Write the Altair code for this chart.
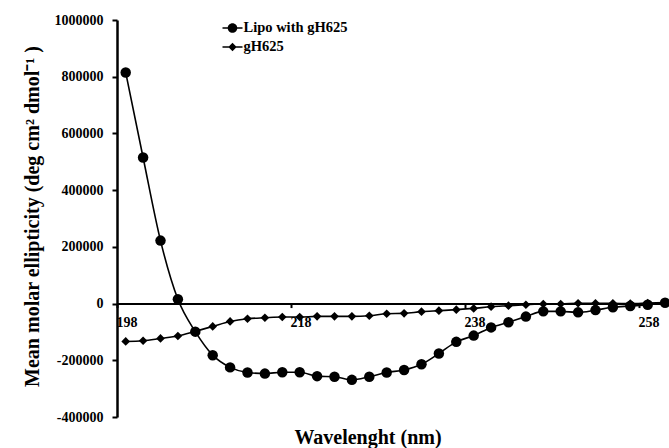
import altair as alt
import pandas as pd

wavelength = list(range(198, 262, 2))
lipo = [815000, 515000, 222000, 15000, -99000, -182000, -225000, -243000,
        -247000, -242000, -242000, -256000, -258000, -269000, -258000, -243000,
        -234000, -214000, -176000, -135000, -113000, -84000, -66000, -46000,
        -27500, -27500, -31000, -23000, -13000, -8500, -4000, 3000]
gh625 = [-133500, -131000, -123000, -114500, -98000, -80500, -63000, -53500,
         -50000, -47500, -47500, -45000, -45000, -45000, -43000, -36000,
         -34500, -28500, -25000, -21500, -17000, -11000, -7500, -4000,
         -1500, -1500, 1000, 1000, 1000, 0, 2000, 4000]
series_names = ["Lipo with gH625", "gH625"]

rows = []
for w, a, b in zip(wavelength, lipo, gh625):
    rows.append({"wl": w, "val": a, "series": series_names[0]})
    rows.append({"wl": w, "val": b, "series": series_names[1]})
df = pd.DataFrame(rows)

W, H = 552, 397
FONT = "Liberation Serif"
ymin, ymax = -400000, 1000000
x_offset = -(H * (0 - ymin) / (ymax - ymin))

xscale = alt.Scale(domain=[197, 260.45], nice=False, zero=False)
yscale = alt.Scale(domain=[ymin, ymax], nice=False)

xaxis = alt.Axis(
    values=[197, 217, 237, 257], labelExpr="datum.value + 1", labelOffset=9.5,
    labelFlush=False, labelOverlap=False, labelBound=False,
    offset=x_offset, tickSize=4, tickWidth=2, tickColor="black",
    domainColor="black", domainWidth=2, labelPadding=8,
    labelFont=FONT, labelFontSize=14, labelFontWeight="bold", labelColor="black",
    title="Wavelenght (nm)", titleFont=FONT, titleFontSize=20, titleFontWeight="bold",
    titleColor="black", titleX=250.5, titleY=139.5, titleAlign="center",
    titleBaseline="alphabetic", grid=False,
)
yaxis = alt.Axis(
    values=list(range(-400000, 1000001, 200000)), labelExpr="datum.value + ''",
    tickSize=5, tickWidth=2, tickColor="black", domainColor="black", domainWidth=2.5,
    labelPadding=9, labelFont=FONT, labelFontSize=14, labelFontWeight="bold",
    labelColor="black",
    title="Mean molar ellipticity (deg cm² dmol⁻¹ )", titleFont=FONT, titleFontSize=20,
    titleFontWeight="bold", titleColor="black", titleAngle=270, titleX=-79,
    titleY=196, titleAlign="center", titleBaseline="alphabetic", grid=False,
)

bar = "M-1,-0.07H1V0.07H-1Z"
circle_leg = bar + "M-0.48,0A0.48,0.48 0 1,1 0.48,0A0.48,0.48 0 1,1 -0.48,0Z"
diamond_leg = bar + "M-0.42,0L0,-0.42L0.42,0L0,0.42Z"

base = alt.Chart(df)
lines = base.mark_line(color="black", strokeWidth=1.6, interpolate="monotone").encode(
    x=alt.X("wl:Q", scale=xscale, axis=xaxis),
    y=alt.Y("val:Q", scale=yscale, axis=yaxis),
    detail="series:N",
)
points = base.mark_point(filled=True, color="black", opacity=1).encode(
    x=alt.X("wl:Q", scale=xscale),
    y=alt.Y("val:Q", scale=yscale),
    shape=alt.Shape("series:N", scale=alt.Scale(domain=series_names, range=["circle", "diamond"]),
                    legend=None),
    size=alt.condition(alt.datum.series == "gH625", alt.value(75), alt.value(110)),
)
legend_layer = base.transform_filter("false").mark_point(
    filled=True, color="black", fill="black", opacity=1
).encode(
    x=alt.X("wl:Q", scale=xscale),
    y=alt.Y("val:Q", scale=yscale),
    shape=alt.Shape("series:N",
                    scale=alt.Scale(domain=series_names, range=[circle_leg, diamond_leg]),
                    legend=alt.Legend(
                        title=None, orient="none", legendX=105.5, legendY=-2,
                        symbolSize=400, rowPadding=2, padding=0, labelOffset=1,
                        labelFont=FONT, labelFontSize=14.5, labelFontWeight="bold",
                        labelColor="black", symbolFillColor="black",
                        symbolStrokeWidth=0, symbolOpacity=1,
                    )),
)

chart = alt.layer(lines, points, legend_layer).resolve_scale(shape="independent").properties(
    width=W, height=H,
    autosize=alt.AutoSizeParams(type="none"),
    padding={"left": 117, "top": 20, "right": 0, "bottom": 31},
    background="white",
).configure_view(stroke=None)

chart.save("out.html", embed_options={"renderer": "svg", "actions": False})
